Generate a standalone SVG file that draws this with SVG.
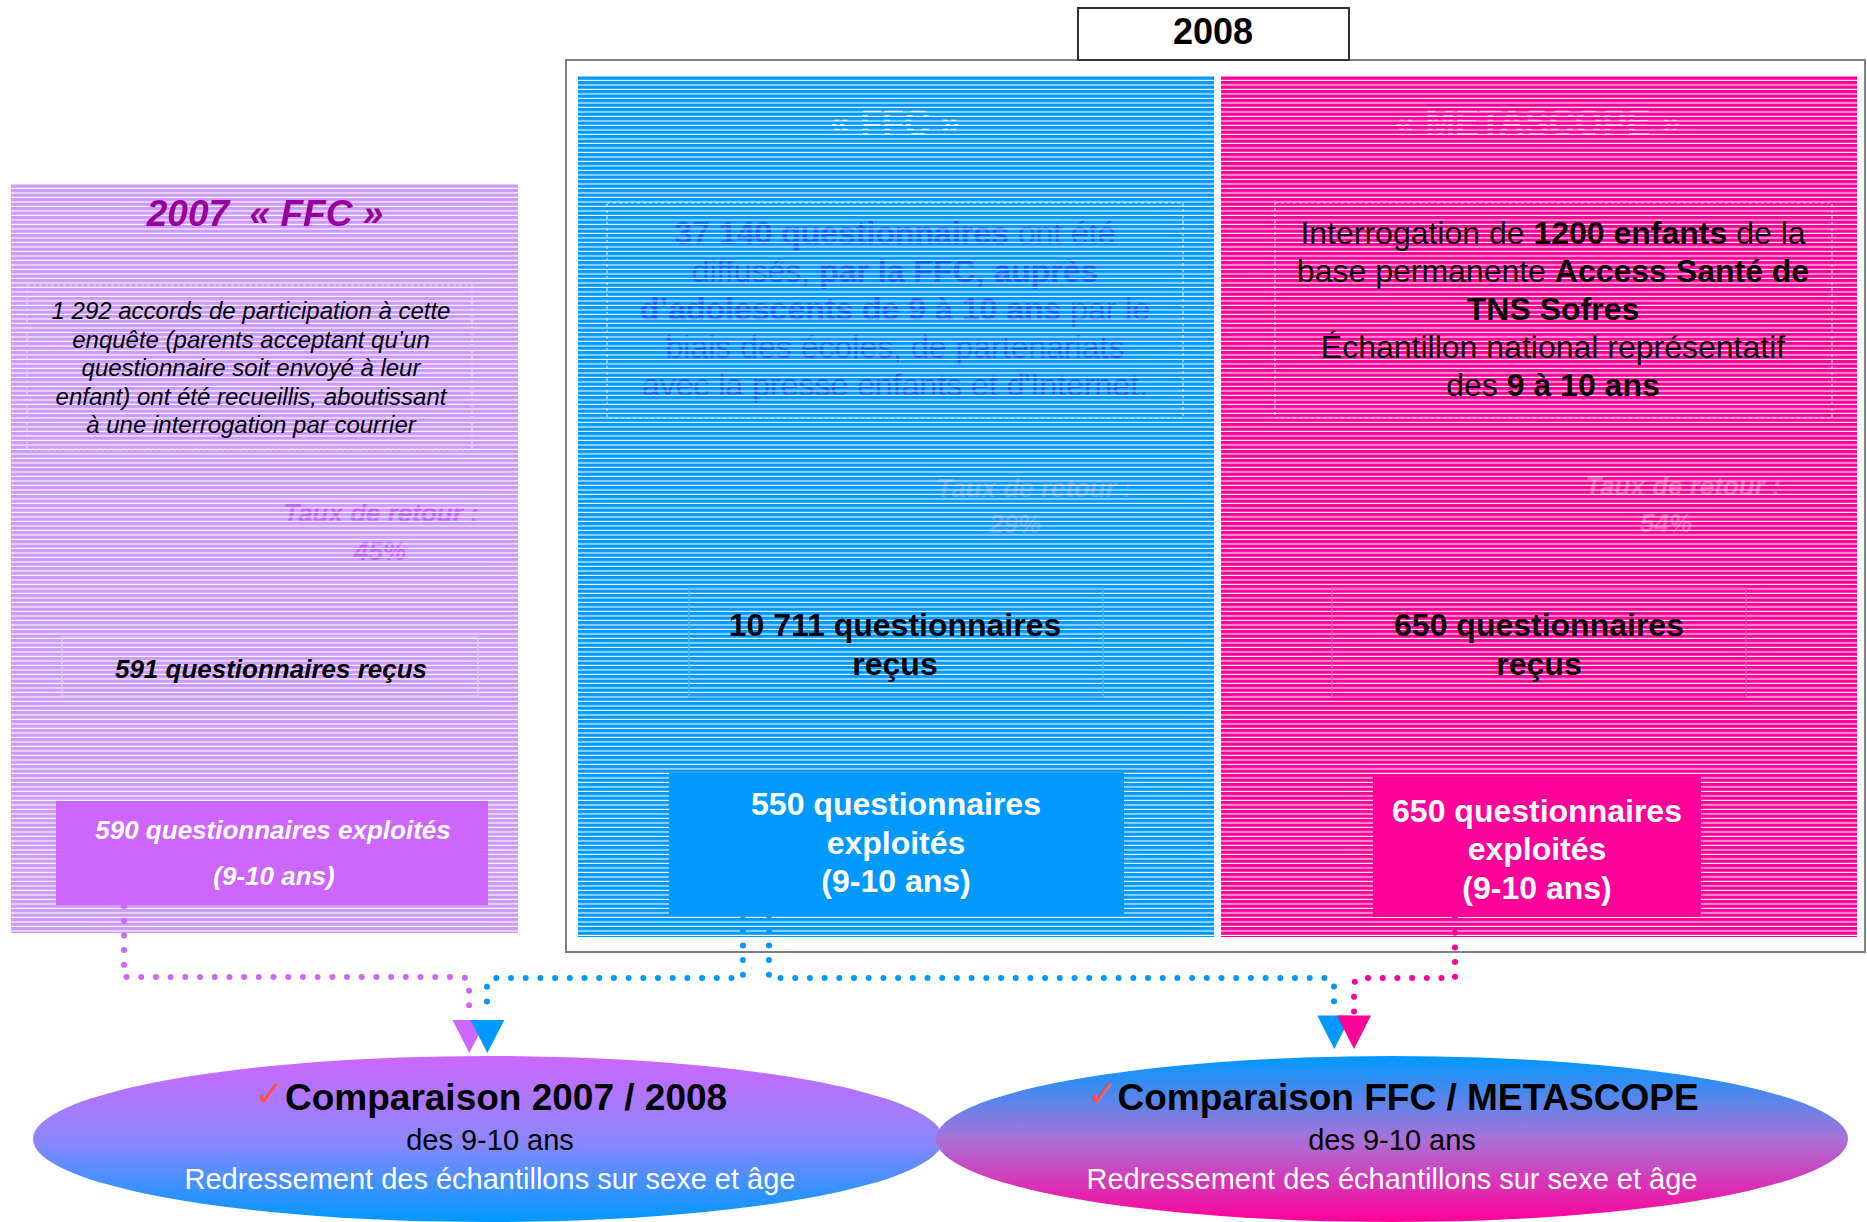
<svg xmlns="http://www.w3.org/2000/svg" width="1867" height="1222" viewBox="0 0 1867 1222">
<defs>
  <pattern id="stripes" width="8" height="4.5" patternUnits="userSpaceOnUse"><rect y="3.4" width="8" height="1.1" fill="#ffffff"/></pattern>
  <pattern id="wBlue" width="8" height="4.5" patternUnits="userSpaceOnUse"><rect width="8" height="4.5" fill="#ffffff"/><rect y="0" width="8" height="2.7" fill="#0099ff"/></pattern>
  <pattern id="wPink" width="8" height="4.5" patternUnits="userSpaceOnUse"><rect width="8" height="4.5" fill="#ffffff"/><rect y="0" width="8" height="2.9" fill="#ff0099"/></pattern>
  <linearGradient id="g1" x1="0" y1="0" x2="0" y2="1"><stop offset="0" stop-color="#cc66ff"/><stop offset="0.5" stop-color="#8f86ff"/><stop offset="1" stop-color="#0099ff"/></linearGradient>
  <linearGradient id="g2" x1="0" y1="0" x2="0" y2="1"><stop offset="0" stop-color="#0099ff"/><stop offset="0.5" stop-color="#a872d8"/><stop offset="1" stop-color="#ff0099"/></linearGradient>
</defs>
<style>
  text{font-family:"Liberation Sans",Arial,sans-serif;text-anchor:middle}
  .b{font-weight:bold}
  .i{font-style:italic}
  .chk{font-family:"DejaVu Sans",sans-serif;font-weight:normal;fill:#ff5050}
  .dots{fill:none;stroke-width:6;stroke-linecap:round;stroke-dasharray:0 14.7}
  .dash{fill:none;stroke-width:1.2;stroke-dasharray:3 3}
  .frame{fill:none;stroke:#808080;stroke-width:2}
  .taux{font-size:26px;font-weight:bold;font-style:italic}
  .body32{font-size:32px}
</style>

<rect id="frame-2008" class="frame" x="566" y="60" width="1299" height="892"/>

<g id="panel-2007">
  <rect x="11" y="184" width="507" height="749" fill="#cc99ff"/>
  <text class="taux" x="381" y="522" fill="#c45cff">Taux de retour :</text>
  <text class="taux" x="380" y="560" fill="#c45cff">45%</text>
  <rect x="11" y="184" width="507" height="749" fill="url(#stripes)"/>
  <text class="b i" x="265" y="226" font-size="37" fill="#990099">2007&#160; « FFC »</text>
  <rect class="dash" x="27" y="285" width="445" height="165" stroke="#ead6ff"/>
  <g class="i" font-size="24" fill="#000">
    <text x="251" y="319">1 292 accords de participation à cette</text>
    <text x="251" y="347.6">enquête (parents acceptant qu’un</text>
    <text x="251" y="376.2">questionnaire soit envoyé à leur</text>
    <text x="251" y="404.8">enfant) ont été recueillis, aboutissant</text>
    <text x="251" y="433.4">à une interrogation par courrier</text>
  </g>
  <rect x="62" y="637" width="416" height="59" fill="none" stroke="#e0c4ff" stroke-width="1.5"/>
  <text class="b i" x="271" y="678" font-size="26" fill="#000">591 questionnaires reçus</text>
  <rect x="56" y="801" width="432" height="104" fill="#cc66ff"/>
  <text class="b i" x="273" y="839" font-size="26" fill="#fff">590 questionnaires exploités</text>
  <text class="b i" x="274" y="885" font-size="26" fill="#fff">(9-10 ans)</text>
</g>

<g id="panel-ffc-2008">
  <rect x="578" y="76" width="636" height="861" fill="#0099ff"/>
  <g class="body32" fill="#0058ff">
    <text x="895" y="244"><tspan class="b">37 140 questionnaires</tspan> ont été</text>
    <text x="895" y="282">diffusés, <tspan class="b">par la FFC, auprès</tspan></text>
    <text x="895" y="320"><tspan class="b">d’adolescents de 9 à 10 ans</tspan> par le</text>
    <text x="895" y="358">biais des écoles, de partenariats</text>
    <text x="895" y="396">avec la presse enfants et d'Internet.</text>
  </g>
  <text class="taux" x="1034" y="497" fill="#4da0ff">Taux de retour :</text>
  <text class="taux" x="1015" y="533" fill="#4da0ff">29%</text>
  <rect x="578" y="76" width="636" height="861" fill="url(#stripes)"/>
  <text class="b" x="895" y="135" font-size="36" fill="url(#wBlue)">« FFC »</text>
  <rect class="dash" x="607" y="203" width="576" height="215" stroke="#d6eeff"/>
  <rect x="689" y="588" width="414" height="109" fill="none" stroke="#4db8ff" stroke-width="1.5"/>
  <text class="b" x="895" y="636" font-size="32" fill="#000">10 711 questionnaires</text>
  <text class="b" x="895" y="675" font-size="32" fill="#000">reçus</text>
  <rect x="669" y="773" width="455" height="142" fill="#0099ff"/>
  <text class="b" x="896" y="815" font-size="32" fill="#fff">550 questionnaires</text>
  <text class="b" x="896" y="854" font-size="32" fill="#fff">exploités</text>
  <text class="b" x="896" y="892" font-size="32" fill="#fff">(9-10 ans)</text>
</g>

<g id="panel-metascope">
  <rect x="1221" y="76" width="636" height="861" fill="#ff0099"/>
  <text class="taux" x="1683" y="495" fill="#ff4fb9">Taux de retour :</text>
  <text class="taux" x="1666" y="532" fill="#ff4fb9">54%</text>
  <rect x="1221" y="76" width="636" height="861" fill="url(#stripes)"/>
  <text class="b" x="1538" y="135" font-size="36" fill="url(#wPink)">« METASCOPE »</text>
  <rect class="dash" x="1275" y="203" width="557" height="215" stroke="#ffd6ee"/>
  <g class="body32" fill="#000">
    <text x="1553" y="244">Interrogation de <tspan class="b">1200 enfants</tspan> de la</text>
    <text x="1553" y="282">base permanente <tspan class="b">Access Santé de</tspan></text>
    <text x="1553" y="320" class="b">TNS Sofres</text>
    <text x="1553" y="358">Échantillon national représentatif</text>
    <text x="1553" y="396">des <tspan class="b">9 à 10 ans</tspan></text>
  </g>
  <rect x="1332" y="588" width="414" height="109" fill="none" stroke="#ff4dbb" stroke-width="1.5"/>
  <text class="b" x="1539" y="636" font-size="32" fill="#000">650 questionnaires</text>
  <text class="b" x="1539" y="675" font-size="32" fill="#000">reçus</text>
  <rect x="1373" y="777" width="328" height="140" fill="#ff0099"/>
  <text class="b" x="1537" y="822" font-size="32" fill="#fff">650 questionnaires</text>
  <text class="b" x="1537" y="860" font-size="32" fill="#fff">exploités</text>
  <text class="b" x="1537" y="899" font-size="32" fill="#fff">(9-10 ans)</text>
</g>

<g id="label-2008">
  <rect x="1078" y="8" width="271" height="52" fill="#fff" stroke="#333" stroke-width="2"/>
  <text class="b" x="1213" y="44" font-size="36" fill="#000">2008</text>
</g>

<g id="compare-2007-2008">
  <ellipse cx="488" cy="1139" rx="455" ry="83" fill="url(#g1)"/>
  <text x="491" y="1110" font-size="37" class="b" fill="#000"><tspan class="chk" font-size="36" dy="-4">✓</tspan><tspan dy="4">Comparaison 2007 / 2008</tspan></text>
  <text x="490" y="1150" font-size="29" fill="#000">des 9-10 ans</text>
  <text x="490" y="1189" font-size="29" fill="#fff">Redressement des échantillons sur sexe et âge</text>
</g>

<g id="compare-ffc-metascope">
  <ellipse cx="1392" cy="1139" rx="456" ry="83" fill="url(#g2)"/>
  <text x="1393" y="1110" font-size="37" class="b" fill="#000"><tspan class="chk" font-size="36" dy="-4">✓</tspan><tspan dy="4">Comparaison FFC / METASCOPE</tspan></text>
  <text x="1392" y="1150" font-size="29" fill="#000">des 9-10 ans</text>
  <text x="1392" y="1189" font-size="29" fill="#fff">Redressement des échantillons sur sexe et âge</text>
</g>

<g id="connectors">
  <path class="dots" stroke="#cc66ff" d="M124,906 V977 H461 Q469,977 469,985 V1016"/>
  <polygon fill="#cc66ff" points="452.5,1020 486.5,1020 469.3,1053"/>
  <path class="dots" stroke="#0099ff" d="M743,916 V978 H495 Q487,978 487,986 V1016"/>
  <polygon fill="#0099ff" points="470.5,1020 504.3,1020 487.3,1053"/>
  <path class="dots" stroke="#0099ff" d="M769,916 V978 H1326 Q1334,978 1334,986 V1012"/>
  <polygon fill="#0099ff" points="1317.3,1015.5 1351.3,1015.5 1334.3,1049"/>
  <path class="dots" stroke="#ff0099" d="M1455,918 V978 H1362 Q1354,978 1354,986 V1012"/>
  <polygon fill="#ff0099" points="1337,1015.5 1371,1015.5 1354,1049"/>
</g>
</svg>
